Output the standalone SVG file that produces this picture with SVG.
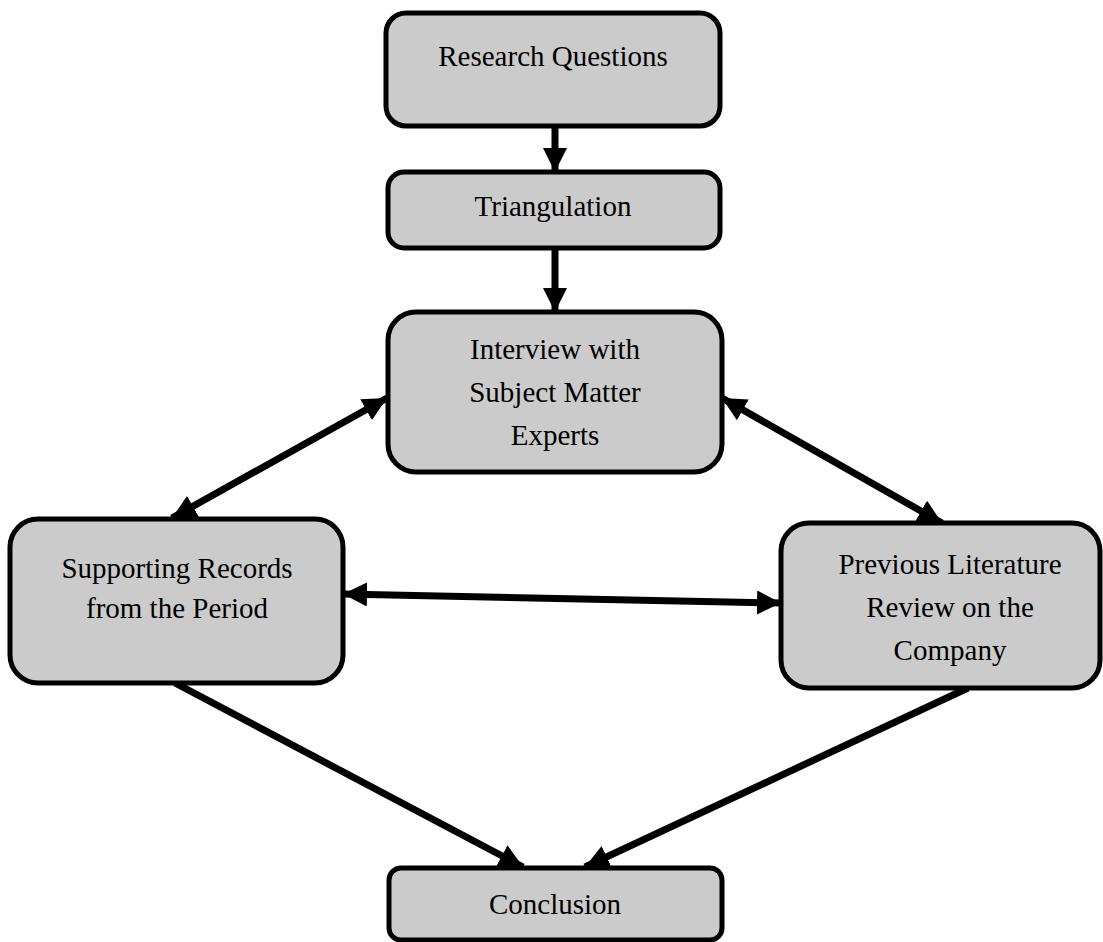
<svg xmlns="http://www.w3.org/2000/svg" width="1103" height="942" viewBox="0 0 1103 942">
<style>
.box{fill:#cbcbcb;stroke:#000;stroke-width:5}
.t{font-family:"Liberation Serif","Times New Roman",serif;font-size:29px;fill:#000;text-anchor:middle}
.c{stroke:#000;stroke-width:7;fill:none}
</style>
<defs>
<marker id="a" viewBox="0 0 10 10" refX="10" refY="5" markerWidth="24" markerHeight="24" markerUnits="userSpaceOnUse" orient="auto-start-reverse">
<path d="M0,0 L10,5 L0,10 Z" fill="#000"/>
</marker>
</defs>
<rect width="1103" height="942" fill="#fff"/>
<g id="connectors">
<line class="c" x1="555" y1="116" x2="555" y2="172" marker-end="url(#a)"/>
<line class="c" x1="555" y1="248" x2="555" y2="312" marker-end="url(#a)"/>
<line class="c" x1="172" y1="518" x2="387" y2="398" marker-start="url(#a)" marker-end="url(#a)"/>
<line class="c" x1="722" y1="398" x2="942" y2="523" marker-start="url(#a)" marker-end="url(#a)"/>
<line class="c" x1="343" y1="594" x2="781" y2="603" marker-start="url(#a)" marker-end="url(#a)"/>
<line class="c" x1="175" y1="683" x2="523" y2="867" marker-end="url(#a)"/>
<line class="c" x1="968" y1="688" x2="585" y2="867" marker-end="url(#a)"/>
</g>
<g id="n1"><rect class="box" x="386" y="13" width="334" height="113" rx="20"/><text class="t" x="553" y="66">Research Questions</text></g>
<g id="n2"><rect class="box" x="388" y="172" width="332" height="76" rx="16"/><text class="t" x="553" y="216">Triangulation</text></g>
<g id="n3"><rect class="box" x="388" y="312" width="334" height="160" rx="28"/><text class="t" x="555" y="359">Interview with</text><text class="t" x="555" y="402">Subject Matter</text><text class="t" x="555" y="445">Experts</text></g>
<g id="n4"><rect class="box" x="10" y="519" width="333" height="164" rx="28"/><text class="t" x="177" y="578">Supporting Records</text><text class="t" x="177" y="618">from the Period</text></g>
<g id="n5"><rect class="box" x="781" y="523" width="319" height="165" rx="28"/><text class="t" x="950" y="574">Previous Literature</text><text class="t" x="950" y="617">Review on the</text><text class="t" x="950" y="660">Company</text></g>
<g id="n6"><rect class="box" x="389" y="868" width="333" height="72" rx="12"/><text class="t" x="555" y="914">Conclusion</text></g>
</svg>
